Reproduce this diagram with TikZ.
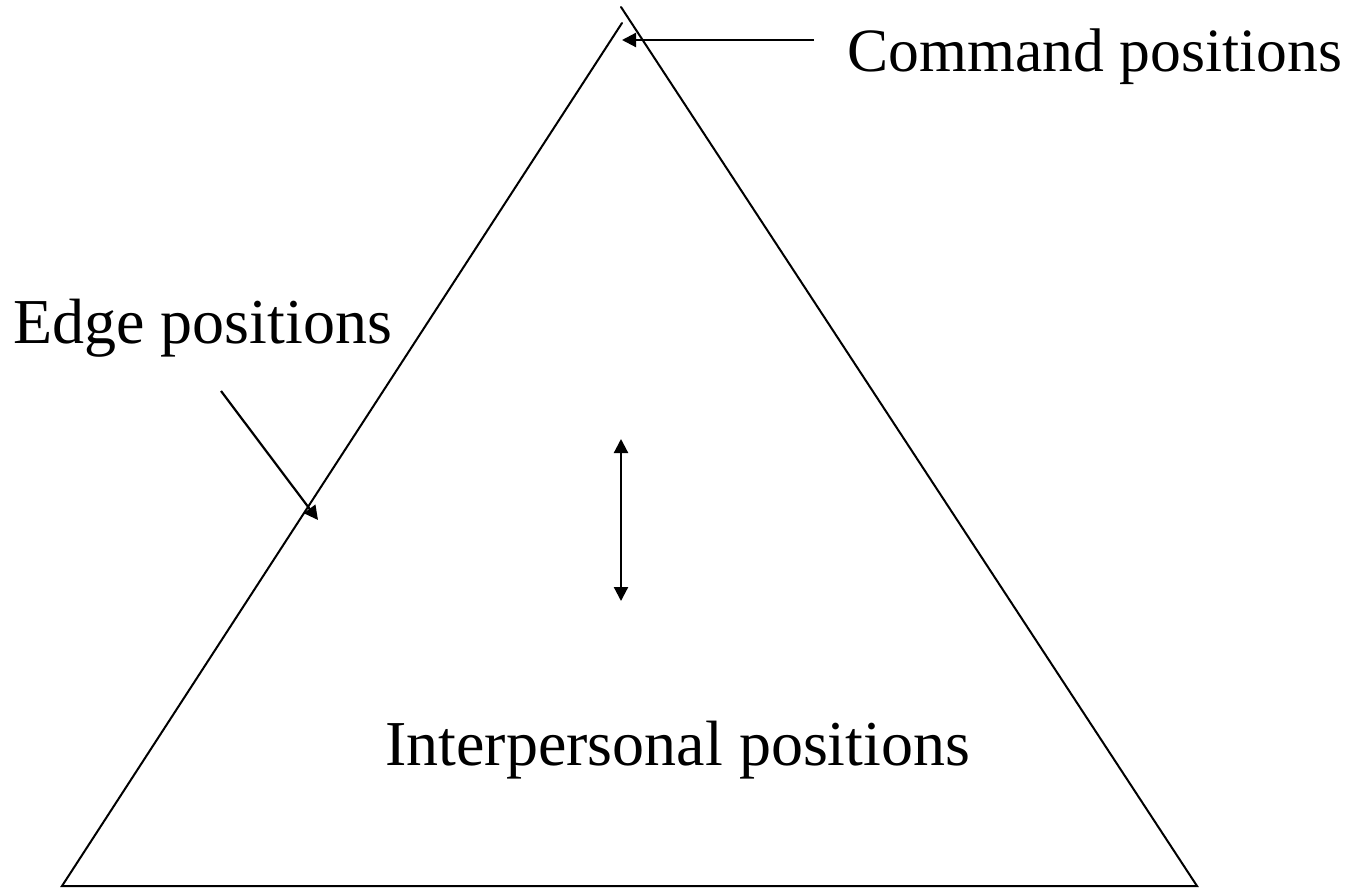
\documentclass[tikz,border=0pt]{standalone}
\usepackage{fontspec}
\setmainfont{Liberation Serif}
\usetikzlibrary{arrows.meta, positioning}
\tikzstyle{side} = [line width=1pt, line cap=round]
\tikzstyle{label} = [anchor=base west, inner sep=0pt, font=\fontsize{32}{38}\selectfont]
\tikzstyle{arrow} = [-{Triangle[length=7pt, width=7pt]}, line width=1.1pt]
\tikzstyle{twoway} = [{Triangle[length=7pt, width=7pt]}-{Triangle[length=7pt, width=7pt]}, line width=1.1pt]

\begin{document}
\begin{tikzpicture}[x=0.5pt, y=-0.5pt]
    \useasboundingbox (0,0) rectangle (1370,888);
    % Triangle corners
    \coordinate (topleft) at (622,23);
    \coordinate (topright) at (621,7);
    \coordinate (baseleft) at (62,886);
    \coordinate (baseright) at (1197,886);
    \draw[side] (topleft) -- (baseleft) -- (baseright) -- (topright);

    % Labels
    \node[label, font=\fontsize{30.8}{36}\selectfont] (command) at (847,72) {Command positions};
    \node[label] (edge) at (13,343) {Edge positions};
    \node[label] (inter) at (385,765) {Interpersonal positions};

    % Pointers
    \coordinate (commandtail) at (814,40);
    \coordinate (commandtip) at (622,40);
    \coordinate (edgetail) at (221,391);
    \coordinate (edgetip) at (318,520);
    \coordinate (uptip) at (621,439);
    \coordinate (downtip) at (621,601);
    \draw[arrow] (commandtail) -- (commandtip);
    \draw[arrow] (edgetail) -- (edgetip);
    \draw[twoway] (uptip) -- (downtip);
\end{tikzpicture}
\end{document}
